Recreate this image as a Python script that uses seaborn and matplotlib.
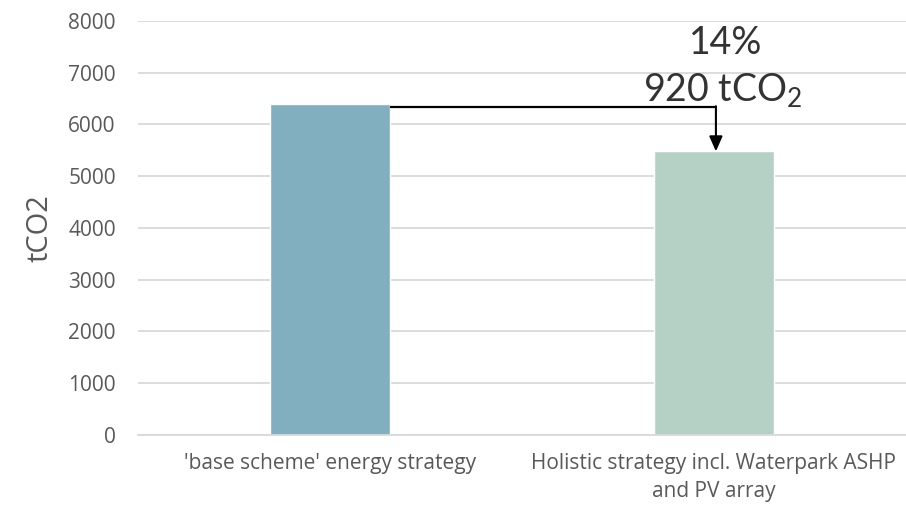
import matplotlib
matplotlib.use("Agg")
import matplotlib.pyplot as plt
import seaborn as sns
import pandas as pd

categories = ["'base scheme' energy strategy", "Holistic strategy incl. Waterpark ASHP\nand PV array"]
values = [6400, 5480]
colors = ["#82AFBF", "#B5D1C5"]
yticks = [0, 1000, 2000, 3000, 4000, 5000, 6000, 7000, 8000]
saving_pct = "14%"
saving_abs = "920 tCO$_2$"

sns.set_theme(style="white")
plt.rcParams['font.family'] = ['Open Sans', 'DejaVu Sans']
plt.rcParams['mathtext.fontset'] = 'custom'
plt.rcParams['mathtext.rm'] = 'Lato'
plt.rcParams['mathtext.it'] = 'Lato'
plt.rcParams['mathtext.default'] = 'regular'

df = pd.DataFrame({"cat": categories, "val": values})
fig = plt.figure(figsize=(9.06, 5.12), dpi=100)
ax = fig.add_axes([0.1523, 0.1504, 0.8477, 0.8086])
sns.barplot(data=df, x="cat", y="val", hue="cat", palette=colors, width=0.3125,
            legend=False, ax=ax, saturation=1)
ax.set_ylim(0, 8000)
ax.set_xlim(-0.5, 1.5)
ax.set_yticks(yticks)
ax.set_yticklabels([str(t) for t in yticks], color="#595959", fontsize=15)
ax.tick_params(axis='x', colors="#595959", labelsize=15, pad=13, length=0)
for lbl in ax.get_xticklabels():
    lbl.set_linespacing(1.45)
ax.tick_params(axis='y', length=0, pad=16)
ax.yaxis.grid(True, color="#D9D9D9", linewidth=1.3)
ax.set_axisbelow(True)
for s in ["top", "right", "left"]:
    ax.spines[s].set_visible(False)
ax.spines["bottom"].set_color("#D9D9D9")
ax.spines["bottom"].set_linewidth(1.3)
ax.set_xlabel("")
ax.set_ylabel("tCO2", fontsize=21, color="#595959", labelpad=10)

# connector
ly = 6338
ax.plot([0.156, 1.005], [ly, ly], color="black", lw=1.6, solid_capstyle="butt")
ax.annotate("", xy=(1.005, values[1]), xytext=(1.005, ly + 15),
            arrowprops=dict(arrowstyle="-|>,head_length=0.75,head_width=0.33", color="black", lw=1.5,
                            shrinkA=0, shrinkB=0))
ax.text(1.03, 7362, saving_pct, ha="center", va="baseline", fontsize=27,
        family=["Lato", "DejaVu Sans"], color="#333333")
ax.text(1.023, 6454, saving_abs, ha="center", va="baseline", fontsize=27,
        family=["Lato", "DejaVu Sans"], color="#333333")

fig.savefig("out.png", dpi=100)
